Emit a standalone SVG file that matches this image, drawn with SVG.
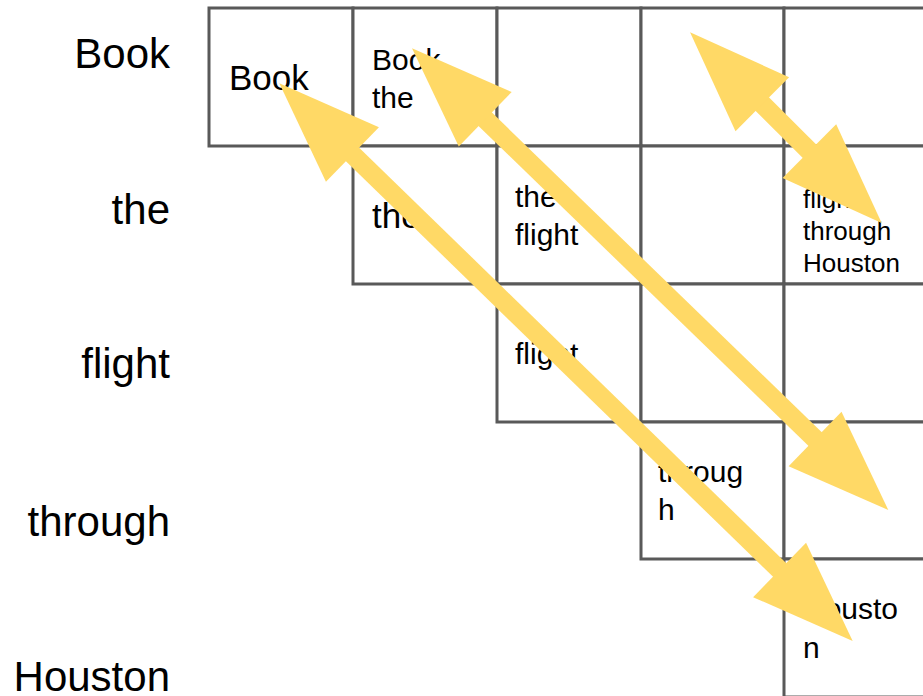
<svg xmlns="http://www.w3.org/2000/svg" width="923" height="696" viewBox="0 0 923 696">
<style>
.cell{fill:#ffffff;stroke:#595959;stroke-width:3}
.lab{font-family:"Liberation Sans",Arial,sans-serif;font-size:42px;fill:#000;text-anchor:end}
.t35{font-family:"Liberation Sans",Arial,sans-serif;font-size:35px;fill:#000}
.t30{font-family:"Liberation Sans",Arial,sans-serif;font-size:30px;fill:#000}
.t26{font-family:"Liberation Sans",Arial,sans-serif;font-size:26px;fill:#000}
.arr{stroke:#FFD966;stroke-width:19;fill:none;marker-start:url(#head);marker-end:url(#head)}
</style>
<defs>
<marker id="head" markerUnits="userSpaceOnUse" orient="auto-start-reverse" markerWidth="110" markerHeight="80" viewBox="0 -40 110 80" refX="2" refY="0" overflow="visible">
<path d="M0,-38 L102,0 L0,38 Z" fill="#FFD966"/>
</marker>
</defs>
<rect width="923" height="696" fill="#ffffff"/>
<g id="labels">
<text class="lab" x="170" y="68">Book</text>
<text class="lab" x="170" y="224">the</text>
<text class="lab" x="170" y="378">flight</text>
<text class="lab" x="170" y="536">through</text>
<text class="lab" x="170" y="691">Houston</text>
</g>
<g id="row1">
<g id="c11"><rect class="cell" x="209" y="8" width="144" height="138"/><text class="t35" x="229" y="90">Book</text></g>
<g id="c12"><rect class="cell" x="353" y="8" width="144" height="138"/><text class="t30" x="372" y="70">Book</text><text class="t30" x="372" y="108">the</text></g>
<g id="c13"><rect class="cell" x="497" y="8" width="144" height="138"/></g>
<g id="c14"><rect class="cell" x="641" y="8" width="143" height="138"/></g>
<g id="c15"><rect class="cell" x="784" y="8" width="144" height="138"/></g>
</g>
<g id="row2">
<g id="c22"><rect class="cell" x="353" y="146" width="144" height="138"/><text class="t35" x="372" y="228">the</text></g>
<g id="c23"><rect class="cell" x="497" y="146" width="144" height="138"/><text class="t30" x="515" y="207">the</text><text class="t30" x="515" y="245">flight</text></g>
<g id="c24"><rect class="cell" x="641" y="146" width="143" height="138"/></g>
<g id="c25"><rect class="cell" x="784" y="146" width="144" height="138"/><text class="t26" x="803" y="208">flight</text><text class="t26" x="803" y="240">through</text><text class="t26" x="803" y="272">Houston</text></g>
</g>
<g id="row3">
<g id="c33"><rect class="cell" x="497" y="284" width="144" height="138"/><text class="t30" x="515" y="364">flight</text></g>
<g id="c34"><rect class="cell" x="641" y="284" width="143" height="138"/></g>
<g id="c35"><rect class="cell" x="784" y="284" width="144" height="138"/></g>
</g>
<g id="row4">
<g id="c44"><rect class="cell" x="641" y="422" width="143" height="137"/><text class="t30" x="658" y="482">throug</text><text class="t30" x="658" y="520">h</text></g>
<g id="c45"><rect class="cell" x="784" y="422" width="144" height="137"/></g>
</g>
<g id="row5">
<g id="c55"><rect class="cell" x="784" y="559" width="144" height="138"/><text class="t30" x="803" y="619">Housto</text><text class="t30" x="803" y="658">n</text></g>
</g>
<g id="connectors">
<line class="arr" x1="351" y1="153" x2="781" y2="571.3"/>
<line class="arr" x1="483.8" y1="117.9" x2="816.5" y2="440.4"/>
<line class="arr" x1="760.9" y1="102.8" x2="810.8" y2="152.5"/>
</g>
</svg>
